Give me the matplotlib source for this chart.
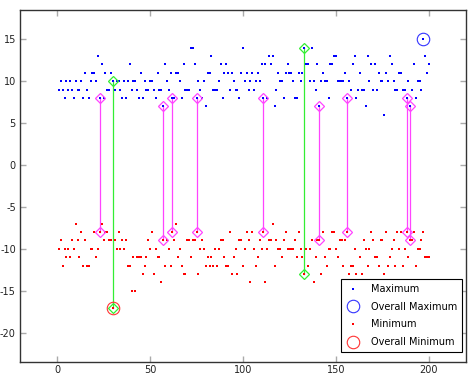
import numpy as np
import matplotlib.pyplot as plt

# per-sample maximum and minimum, samples 1..200
max_vals = [9, 10, 9, 8, 10, 9, 10, 9, 8, 10,
            9, 9, 10, 8, 11, 9, 8, 10, 11, 11,
            10, 13, 8, 12, 8, 11, 9, 9, 11, 10,
            9, 10, 10, 9, 8, 10, 8, 10, 12, 9,
            10, 10, 9, 8, 11, 8, 10, 9, 9, 10,
            10, 9, 8, 11, 9, 9, 7, 12, 10, 9,
            11, 8, 8, 11, 11, 10, 8, 12, 9, 9,
            9, 14, 14, 12, 8, 10, 9, 8, 10, 7,
            11, 11, 13, 9, 9, 9, 10, 12, 8, 11,
            12, 11, 9, 11, 10, 9, 9, 8, 11, 14,
            10, 11, 9, 10, 11, 9, 10, 11, 10, 12,
            8, 12, 8, 13, 12, 13, 7, 9, 11, 10,
            10, 8, 11, 12, 11, 11, 10, 8, 8, 11,
            10, 11, 14, 12, 12, 10, 14, 10, 9, 12,
            7, 10, 11, 10, 10, 8, 12, 12, 13, 13,
            10, 10, 10, 10, 11, 8, 10, 9, 12, 13,
            8, 9, 11, 9, 9, 7, 13, 10, 12, 9,
            12, 9, 11, 10, 10, 6, 11, 10, 13, 12,
            10, 9, 9, 11, 11, 9, 9, 8, 10, 7,
            9, 12, 8, 10, 10, 9, 15, 13, 11, 12]

min_vals = [-10, -9, -12, -10, -11, -10, -11, -9, -10, -7,
            -9, -11, -8, -12, -9, -12, -12, -10, -10, -8,
            -11, -10, -8, -7, -9, -8, -8, -9, -9, -17,
            -9, -10, -8, -10, -9, -10, -9, -12, -12, -15,
            -11, -15, -11, -11, -11, -13, -12, -11, -9, -10,
            -8, -13, -10, -11, -11, -14, -9, -12, -9, -10,
            -12, -8, -9, -7, -11, -10, -12, -13, -13, -9,
            -9, -11, -9, -9, -8, -13, -10, -9, -10, -12,
            -11, -12, -11, -12, -10, -12, -10, -9, -9, -11,
            -12, -12, -8, -13, -11, -10, -13, -9, -9, -12,
            -10, -8, -9, -14, -8, -10, -12, -11, -9, -10,
            -8, -14, -10, -9, -9, -7, -12, -9, -10, -10,
            -11, -9, -8, -10, -10, -10, -10, -9, -11, -8,
            -10, -11, -13, -10, -12, -10, -9, -14, -11, -9,
            -9, -13, -8, -11, -12, -10, -10, -8, -8, -10,
            -11, -9, -9, -12, -9, -8, -13, -12, -12, -10,
            -13, -14, -11, -13, -9, -10, -12, -10, -8, -9,
            -11, -11, -12, -9, -9, -13, -8, -12, -11, -10,
            -9, -12, -8, -10, -8, -12, -10, -8, -11, -9,
            -9, -8, -12, -10, -10, -9, -8, -11, -11, -11]

x_ticks = [0, 50, 100, 150, 200]
y_ticks = [-20, -15, -10, -5, 0, 5, 10, 15]

mx = np.array(max_vals)
mn = np.array(min_vals)
x = np.arange(1, len(mx) + 1)
spread = mx - mn

plt.rcParams['axes.unicode_minus'] = False

fig = plt.figure(figsize=(4.73, 3.75), dpi=100)
ax = fig.add_axes([0.0423, 0.0347, 0.9430, 0.9386])

magenta = '#ff44ff'
green = '#33ee33'

# smallest spread -> magenta, largest spread -> green
for idx, col in [(np.where(spread == spread.min())[0], magenta),
                 (np.where(spread == spread.max())[0], green)]:
    for i in idx:
        ax.plot([x[i], x[i]], [mx[i], mn[i]], color=col, lw=0.9, zorder=1)
    ax.plot(x[idx], mx[idx], 'D', ms=4.8, mfc='none', mec=col, mew=0.9, zorder=3)
    ax.plot(x[idx], mn[idx], 'D', ms=4.8, mfc='none', mec=col, mew=0.9, zorder=3)

ax.plot(x, mx, 's', color='#0000ff', ms=1.5, mew=0, label='Maximum', zorder=2)
imax = np.argmax(mx)
ax.plot(x[imax], mx[imax], 'o', ms=9, mfc='none', mec='#3333ff', mew=0.8,
        label='Overall Maximum')
ax.plot(x, mn, 's', color='#ff0000', ms=1.5, mew=0, label='Minimum', zorder=2)
imin = np.argmin(mn)
ax.plot(x[imin], mn[imin], 'o', ms=9, mfc='none', mec='#ff3333', mew=0.8,
        label='Overall Minimum')

ax.set_xlim(-20, 220)
ax.set_ylim(-23.5, 18.5)
ax.set_xticks(x_ticks)
ax.set_yticks(y_ticks)
ax.tick_params(direction='in', top=True, right=True, length=4, width=1,
               color='#aaaaaa', labelsize=7, labelcolor='#222222')
ax.tick_params(axis='x', pad=2.5)
ax.tick_params(axis='y', pad=3)
for s in ax.spines.values():
    s.set_color('#333333')
    s.set_linewidth(1.0)

leg = ax.legend(loc='lower right', bbox_to_anchor=(0.991, 0.028),
                borderaxespad=0, fontsize=7, fancybox=False, framealpha=1,
                edgecolor='black', handletextpad=1.0, handlelength=1.6,
                labelspacing=0.8, borderpad=0.5)
leg.get_frame().set_linewidth(0.8)

fig.savefig('out.png', dpi=100)
